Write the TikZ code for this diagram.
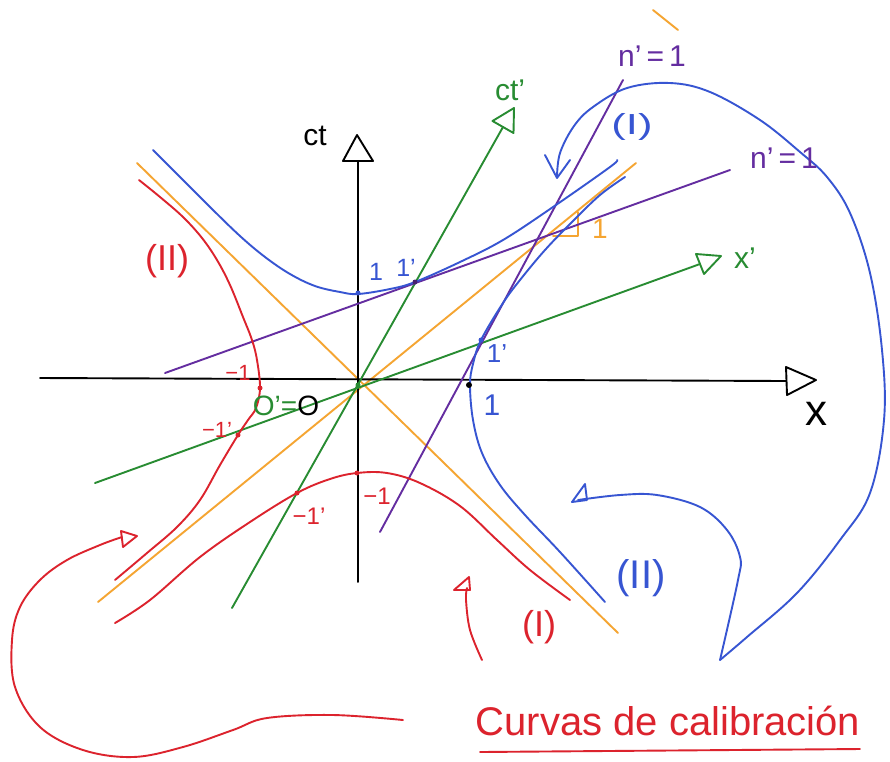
\documentclass[tikz,border=0pt]{standalone}
\usepackage{fontspec}
\setmainfont{Liberation Sans}
\definecolor{hred}{RGB}{220,35,45}
\definecolor{hblue}{RGB}{55,85,210}
\definecolor{hgreen}{RGB}{40,140,50}
\definecolor{horange}{RGB}{245,165,50}
\definecolor{hpurple}{RGB}{100,45,160}
\tikzset{
  stroke/.style={line width=1.9pt, line cap=round, line join=round},
  lab/.style={inner sep=0pt},
  mk/.style={circle, fill, inner sep=0pt, minimum size=5pt},
  fs/.style={font=\fontsize{#1}{#1}\selectfont}
}
\begin{document}
\begin{tikzpicture}[x=1pt,y=-1pt]
\useasboundingbox (0,0) rectangle (890,761);
\fill[white] (0,0) rectangle (890,761);

% ---- light cones (orange)
\draw[horange, stroke] (137,163) -- (618,633);
\draw[horange, stroke] (98,602) -- (636,163);
\draw[horange, stroke] (653,10) -- (678,30);
\draw[horange, stroke] (553,236) -- (578,236) -- (578,212);

% ---- axes (black)
\coordinate (xs) at (40,378);
\coordinate (xe) at (786,381);
\draw[black, stroke] (xs) -- (xe);
\draw[black, stroke] (786,367) -- (816,380) -- (787,395) -- cycle;
\coordinate (ts) at (358,582);
\coordinate (te) at (358,161);
\draw[black, stroke] (ts) -- (te);
\draw[black, stroke] (343,161) -- (357,135) -- (373,161) -- cycle;

% ---- primed axes (green)
\coordinate (cps) at (232,608);
\coordinate (cpe) at (503,127);
\draw[hgreen, stroke] (cps) -- (cpe);
\draw[hgreen, stroke] (492.5,121) -- (514,108) -- (513.5,133) -- cycle;
\coordinate (xps) at (95,483);
\coordinate (xpe) at (700,264);
\draw[hgreen, stroke] (xps) -- (xpe);
\draw[hgreen, stroke] (696,254) -- (721,256) -- (704,274) -- cycle;

% ---- purple lines
\draw[hpurple, stroke] (380,532) -- (623,80);
\draw[hpurple, stroke] (165,373) -- (730,170);

% ---- blue hyperbolas
\draw[hblue, stroke] plot[smooth, tension=0.6] coordinates {(153,150) (183,180) (210,207) (240,236) (265,257) (290,274) (315,286) (340,292) (358,294) (390,289) (415,282) (460,262) (503,240) (553,207) (610,167) (617,160)};
\draw[hblue, stroke] plot[smooth, tension=0.6] coordinates {(625,177) (600,195) (572,222) (545,250) (520,280) (503,303) (481,340) (473,364) (470,385) (473,420) (482,453) (500,485) (525,515) (560,552) (605,602)};

% ---- red hyperbolas
\draw[hred, stroke] plot[smooth, tension=0.6] coordinates {(139,180) (160,197) (183,217) (202,238) (217,260) (230,285) (243,317) (252,340) (257,360) (260,388) (256,408) (248,420) (238,435) (220,465) (200,500) (177,527) (147,553) (115,580)};
\draw[hred, stroke] plot[smooth, tension=0.6] coordinates {(115,623) (150,600) (200,557) (250,522) (297,493) (330,479) (357,473) (387,473) (420,483) (460,506) (497,540) (530,570) (570,600)};

% ---- curved arrows
\draw[hblue, stroke] plot[smooth, tension=0.6] coordinates {(557,177) (560,153) (574,126) (593,107) (627,88) (670,83) (710,92) (760,120) (800,152) (827,177) (850,213) (870,273) (882,350) (884,420) (870,493) (840,540) (797,593) (747,637) (720,660)};
\draw[hblue, stroke] plot[smooth, tension=0.6] coordinates {(720,660) (738,580) (740,557) (727,530) (700,507) (657,495) (620,495) (578,500)};
\draw[hblue, stroke] (545,155) -- (557,178) -- (570,160);
\draw[hblue, stroke] (572,502) -- (585,484) -- (587,500) -- cycle;

\draw[hred, stroke] plot[smooth, tension=0.6] coordinates {(482,660) (470,630) (466,600) (467,588)};
\draw[hred, stroke] (454,590) -- (469,577) -- (470,590) -- cycle;
\draw[hred, stroke] plot[smooth, tension=0.6] coordinates {(403,720) (333,715) (267,718) (233,730) (183,747) (133,757) (83,750) (40,727) (15,687) (12,640) (20,607) (40,580) (67,560) (100,545) (122,537)};
\draw[hred, stroke] (121,531) -- (137,536) -- (123,547) -- cycle;

% ---- marks
\node[mk, hgreen] (orig) at (358,385) {};
\node[mk, black, minimum size=6pt] (m1) at (469,385) {};
\node[mk, hblue] (m2) at (481,340) {};
\node[mk, hblue] (m3) at (358,293) {};
\node[mk, hpurple!70!black] (m4) at (415,282) {};
\node[mk, hred] (m5) at (260,388) {};
\node[mk, hred] (m6) at (238,435) {};
\node[mk, hred] (m7) at (297,493) {};
\node[mk, hred] (m8) at (357,473) {};

% ---- labels
\node[lab, fs=30] (lct) at (315,136) {ct};
\node[lab, fs=44] (lx) at (816,414) {x};
\node[lab, fs=30, hgreen] (lctp) at (510,90) {ct'};
\node[lab, fs=30, hgreen] (lxp) at (745,258) {x'};
\node[lab, fs=30, hpurple] (ln1) at (652,56) {n'\,=\,1};
\node[lab, fs=30, hpurple] (ln2) at (784,158) {n'\,=\,1};
\node[lab, fs=28, horange] (lo1) at (600,229) {1};
\node[lab, fs=29, hblue] (lbI) at (632,127) {\scalebox{1.5}[1]{(I)}};
\node[lab, fs=40, hblue] (lbII) at (641,578) {(II)};
\node[lab, fs=36, hred] (lrII) at (167,261) {(II)};
\node[lab, fs=36, hred] (lrI) at (539,627) {(I)};
\node[lab, fs=25, hblue] (lb1a) at (376,272) {1};
\node[lab, fs=25, hblue] (lb1b) at (406,268) {1'};
\node[lab, fs=26, hblue] (lb1c) at (497,354) {1'};
\node[lab, fs=30, hblue] (lb1d) at (492,405) {1};
\node[lab, fs=22, hred] (lr1a) at (238,373) {−1};
\node[lab, fs=22, hred] (lr1b) at (217,430) {−1'};
\node[lab, fs=24, hred] (lr1c) at (377,496) {−1};
\node[lab, fs=24, hred] (lr1d) at (309,516) {−1'};
\node[lab, fs=28] (loo) at (286,406) {\textcolor{hgreen}{O'=}O};
\node[lab, fs=40, hred, anchor=base] (lcal) at (668,735) {Curvas de calibración};
\draw[hred, stroke] (480,752) -- (860,749);
\end{tikzpicture}
\end{document}
